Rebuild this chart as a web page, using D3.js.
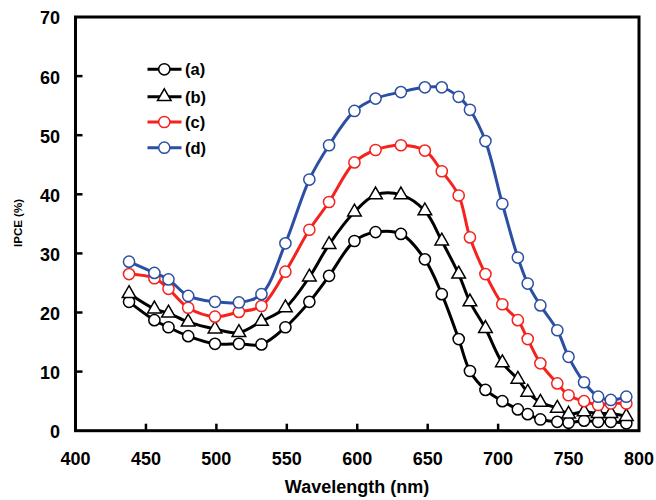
<!DOCTYPE html>
<html><head><meta charset="utf-8">
<script src="https://cdn.jsdelivr.net/npm/d3@7"></script>
<style>body{margin:0;background:#fff}svg{display:block}text{font-family:"Liberation Sans",Arial,sans-serif;font-weight:bold}</style>
</head><body>
<svg id="c" width="656" height="500"></svg>
<script>
const wavelengths = [438,456,466,480,499,516,532,549,566,580,598,613,631,648,660,672,680,691,703,714,721,730,742,750,761,771,780,791];
const seriesA = [21.8,18.7,17.5,16.0,14.7,14.7,14.6,17.5,21.8,26.2,32.1,33.6,33.3,29.0,23.1,15.5,10.1,6.9,5.0,3.6,2.8,1.9,1.5,1.35,1.7,1.5,1.5,1.25];
const seriesB = [23.2,20.6,19.9,18.4,17.2,16.6,18.5,20.8,26.0,31.5,37.0,39.9,39.9,37.2,32.1,26.5,21.8,17.3,11.5,8.7,6.5,4.8,3.8,2.8,3.2,2.9,2.9,2.4];
const seriesC = [26.5,25.8,24.0,20.8,19.3,20.1,21.1,26.9,34.0,38.7,45.4,47.5,48.3,47.4,43.9,39.8,32.7,26.5,21.4,18.7,15.5,11.4,8.0,6.0,5.0,4.35,4.6,4.6];
const seriesD = [28.6,26.7,25.6,22.8,21.8,21.7,23.1,31.7,42.5,48.3,54.1,56.2,57.3,58.1,58.1,56.5,54.3,49.0,38.4,29.3,24.9,21.2,17.0,12.5,8.2,5.75,5.2,5.75];
const seriesNames = ["(a)","(b)","(c)","(d)"];
const seriesColors = ["#000000","#000000","#f5221e","#2b4fa3"];
const seriesMarkers = ["circle","triangle","circle","circle"];
const xTicks = [400,450,500,550,600,650,700,750,800];
const yTicks = [0,10,20,30,40,50,60,70];

const allSeries = [seriesA,seriesB,seriesC,seriesD];
const svg = d3.select("#c");
const L=75.5, R=639, T=17, B=430.7;
const x = d3.scaleLinear().domain([400,800]).range([L,R]);
const y = d3.scaleLinear().domain([0,70]).range([B,T]);

const g = svg.append("g");
xTicks.forEach(t=>{
  if(t>400 && t<800) g.append("line").attr("x1",x(t)).attr("x2",x(t)).attr("y1",B).attr("y2",B-7).attr("stroke","#000").attr("stroke-width",2.5);
  g.append("text").attr("x",x(t)).attr("y",B+34).attr("text-anchor","middle").attr("font-size",18).text(t);
});
yTicks.forEach(t=>{
  if(t>0 && t<70) g.append("line").attr("x1",L).attr("x2",L+7).attr("y1",y(t)).attr("y2",y(t)).attr("stroke","#000").attr("stroke-width",2.5);
  g.append("text").attr("x",L-15.5).attr("y",y(t)+1).attr("dy","0.36em").attr("text-anchor","end").attr("font-size",18).text(t);
});
g.append("rect").attr("x",L).attr("y",T).attr("width",R-L).attr("height",B-T).attr("fill","none").attr("stroke","#000").attr("stroke-width",3);

g.append("text").attr("x",357).attr("y",493).attr("text-anchor","middle").attr("font-size",18).text("Wavelength (nm)");
g.append("text").attr("transform","translate(22,223) rotate(-90)").attr("text-anchor","middle").attr("font-size",11.5).text("IPCE (%)");

const line = d3.line().x(d=>x(d[0])).y(d=>y(d[1])).curve(d3.curveCatmullRom.alpha(0.5));
const tri = d3.symbol().type(d3.symbolTriangle).size(80);

function marker(sel, type, color){
  if(type==="circle") sel.append("circle").attr("r",5.6).attr("fill","#fff").attr("stroke",color).attr("stroke-width",1.5);
  else sel.append("path").attr("d",tri()).attr("fill","#fff").attr("stroke",color).attr("stroke-width",1.5);
}

allSeries.forEach((s,i)=>{
  const pts = wavelengths.map((w,j)=>[w,s[j]]);
  svg.append("path").attr("d",line(pts)).attr("fill","none").attr("stroke",seriesColors[i]).attr("stroke-width",3);
});
allSeries.forEach((s,i)=>{
  const pts = wavelengths.map((w,j)=>[w,s[j]]);
  pts.forEach(p=>{
    const m = svg.append("g").attr("transform",`translate(${x(p[0])},${y(p[1])})`);
    marker(m, seriesMarkers[i], seriesColors[i]);
  });
});

const legY = [69.3,96.7,122,147.7];
seriesNames.forEach((n,i)=>{
  const lg = svg.append("g");
  lg.append("line").attr("x1",147.5).attr("x2",181.5).attr("y1",legY[i]).attr("y2",legY[i]).attr("stroke",seriesColors[i]).attr("stroke-width",3);
  const m = lg.append("g").attr("transform",`translate(164.3,${legY[i]})`);
  marker(m, seriesMarkers[i], seriesColors[i]);
  lg.append("text").attr("x",185).attr("y",legY[i]).attr("dy","0.36em").attr("font-size",16.5).text(n);
});
</script>
</body></html>
